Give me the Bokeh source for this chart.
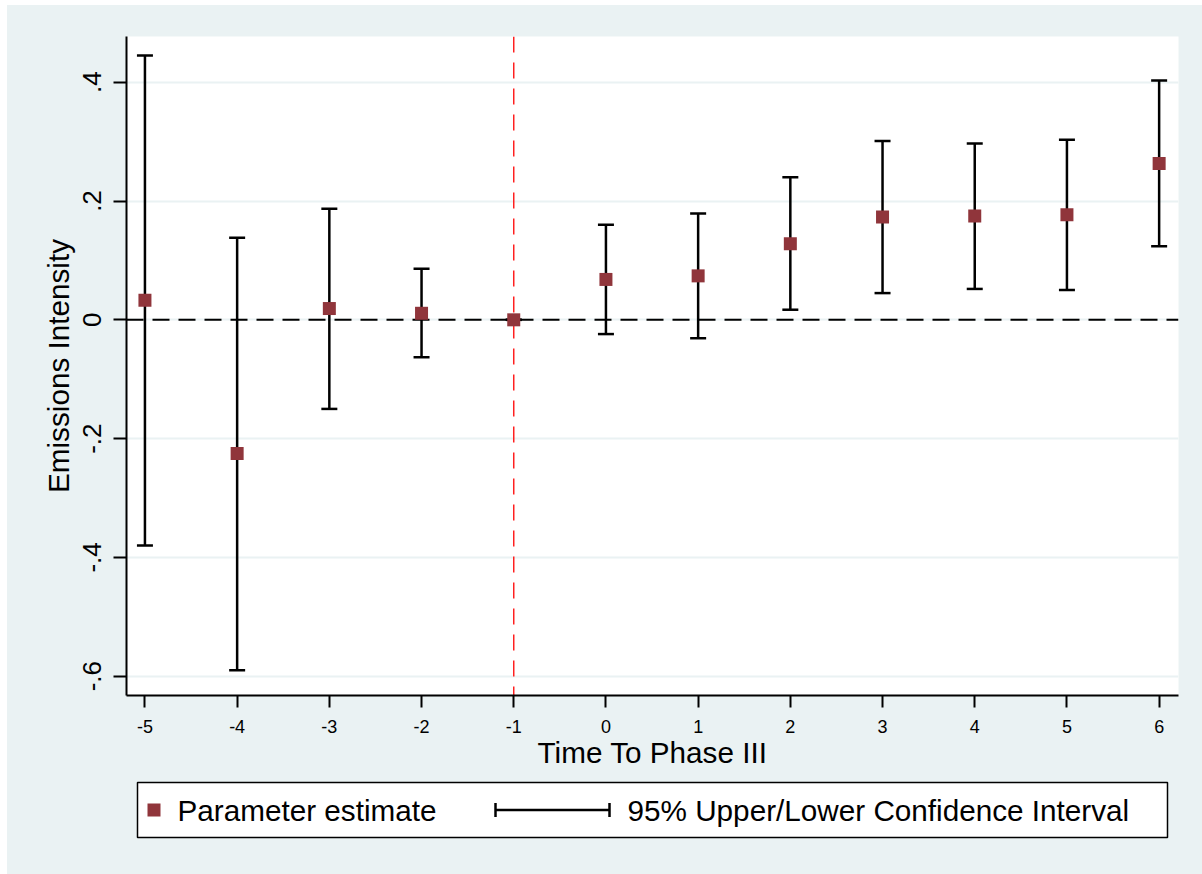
from bokeh.plotting import figure
from bokeh.models import (ColumnDataSource, Range1d, FixedTicker, Span, Whisker, TeeHead)
from bokeh.layouts import column
from bokeh.core.properties import value
from bokeh.embed import file_html
from bokeh.resources import INLINE

# ---- data ----
periods = [-5, -4, -3, -2, -1, 0, 1, 2, 3, 4, 5, 6]
estimate = [0.033, -0.225, 0.019, 0.011, 0.0, 0.068, 0.074, 0.128, 0.173, 0.175, 0.177, 0.263]
upper = [0.445, 0.138, 0.187, 0.086, 0.0, 0.160, 0.179, 0.240, 0.301, 0.297, 0.303, 0.403]
lower = [-0.380, -0.590, -0.150, -0.063, 0.0, -0.024, -0.031, 0.017, 0.045, 0.052, 0.050, 0.124]
y_ticks = [-0.6, -0.4, -0.2, 0.0, 0.2, 0.4]
y_tick_labels = ["-.6", "-.4", "-.2", "0", ".2", ".4"]
x_ticks = periods
event_period = -1
x_title = "Time To Phase III"
y_title = "Emissions Intensity"
legend_labels = ["Parameter estimate", "95% Upper/Lower Confidence Interval"]

BG = "#EAF2F3"
MARK = "#90353B"
FONT = "Liberation Sans"
TITLE_SIZE = "29.7px"
CI_W = 2.5

# page geometry
ML, MT = 7, 5               # white page strip left / top
FL, FR = 126, 1178          # frame left / right (page px)
FT, FB = 36, 695            # frame top / bottom (page px)
PW = 1202 - ML              # figure width
SPLIT = 780                 # page y where legend panel starts
BOTTOM = 874

src = ColumnDataSource(dict(x=periods, est=estimate, upper=upper, lower=lower))

p = figure(width=PW, height=SPLIT - MT, output_backend="svg", toolbar_location=None,
           x_range=Range1d(-5.2, 6.21), y_range=Range1d(-0.6325, 0.477),
           min_border_left=FL - ML, min_border_right=1202 - FR,
           min_border_top=FT - MT, min_border_bottom=SPLIT - FB)
p.background_fill_color = "white"
p.border_fill_color = BG
p.outline_line_color = None

# axes
for ax in (p.xaxis[0], p.yaxis[0]):
    ax.axis_line_color = "black"
    ax.axis_line_width = 2
    ax.major_tick_line_color = "black"
    ax.major_tick_line_width = 2
    ax.major_tick_in = 0
    ax.minor_tick_line_color = None
    ax.major_label_text_font = FONT
    ax.major_label_text_color = "black"
    ax.axis_label_text_font = FONT
    ax.axis_label_text_font_style = "normal"
    ax.axis_label_text_color = "black"
    ax.axis_label_text_font_size = TITLE_SIZE

p.xaxis.ticker = FixedTicker(ticks=x_ticks)
p.xaxis.major_label_overrides = {t: str(t) for t in x_ticks}
p.xaxis.major_tick_out = 12
p.xaxis.major_label_text_font_size = "18px"
p.xaxis.major_label_standoff = 12
p.xaxis.axis_label = x_title
p.xaxis.axis_label_standoff = 0

p.yaxis.ticker = FixedTicker(ticks=y_ticks)
p.yaxis.major_label_overrides = {t: l for t, l in zip(y_ticks, y_tick_labels)}
p.yaxis.major_tick_out = 13
p.yaxis.major_label_text_font_size = "26px"
p.yaxis.major_label_orientation = "vertical"
p.yaxis.major_label_standoff = 12
p.yaxis.axis_label = y_title
p.yaxis.axis_label_standoff = 6

# grid
p.xgrid.grid_line_color = None
p.ygrid.ticker = FixedTicker(ticks=y_ticks)
p.ygrid.grid_line_color = BG
p.ygrid.grid_line_width = 2

# reference lines
zero = Span(location=0, dimension="width", line_color="black", line_width=2,
            line_dash="17 9", level="underlay")
vline = Span(location=event_period, dimension="height", line_color="#FF2020",
             line_width=1.5, line_dash="16 10", level="underlay")
p.add_layout(zero)
p.add_layout(vline)

# estimates
p.scatter("x", "est", source=src, marker="square", size=13, fill_color=MARK,
          line_color=MARK, line_width=0)

# confidence intervals
wh = Whisker(base="x", upper="upper", lower="lower", source=src, dimension="height",
             line_color="black", line_width=CI_W,
             upper_head=TeeHead(size=16, line_color="black", line_width=CI_W),
             lower_head=TeeHead(size=16, line_color="black", line_width=CI_W))
p.add_layout(wh)

# ---- legend panel (frame aligned with the main plot; ranges in page pixels) ----
lg = figure(width=PW, height=BOTTOM - SPLIT, output_backend="svg", toolbar_location=None,
            x_range=Range1d(FL, FR), y_range=Range1d(BOTTOM, SPLIT),
            min_border_left=FL - ML, min_border_right=1202 - FR,
            min_border_top=0, min_border_bottom=0)
lg.axis.visible = False
lg.grid.visible = False
lg.outline_line_color = None
lg.background_fill_color = BG
lg.border_fill_color = BG

box_l, box_r, box_t, box_b = 137, 1167, 782, 837
cy = (box_t + box_b) / 2
lg.quad(left=[box_l], right=[box_r], top=[box_t], bottom=[box_b], fill_color="white",
        line_color="black", line_width=1.5)
lg.scatter([153.5], [cy], marker="square", size=13, fill_color=MARK, line_color=MARK, line_width=0)
lg.text([177], [cy], text=[legend_labels[0]], text_font=value(FONT), text_font_size=TITLE_SIZE,
        text_baseline="middle", text_align="left", text_color="black")
ex0, ex1 = 495, 609
lg.segment(x0=[ex0, ex0, ex1], y0=[cy, cy - 7, cy - 7], x1=[ex1, ex0, ex1], y1=[cy, cy + 7, cy + 7],
           line_color="black", line_width=CI_W)
lg.text([627], [cy], text=[legend_labels[1]], text_font=value(FONT), text_font_size=TITLE_SIZE,
        text_baseline="middle", text_align="left", text_color="black")

layout = column(p, lg, spacing=0, margin=(MT, 0, 0, ML),
                styles={"background-color": BG})
open("out.html", "w").write(file_html(layout, INLINE))
